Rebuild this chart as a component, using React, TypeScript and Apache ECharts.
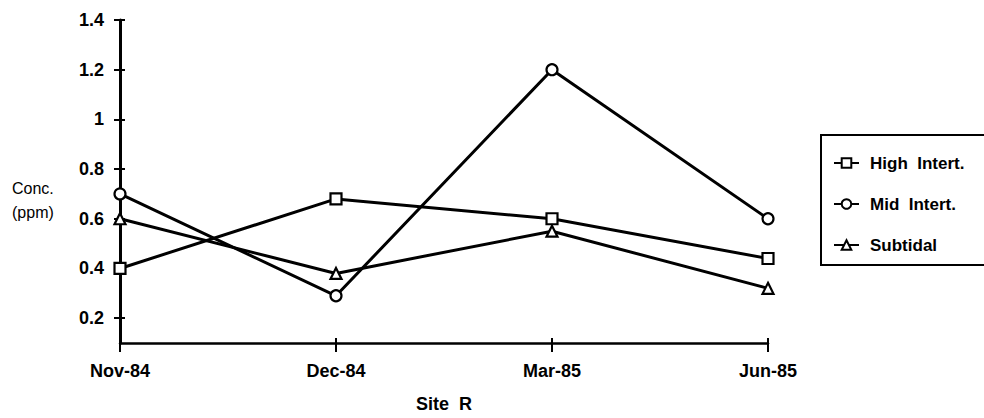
import React, { useEffect, useRef } from "react";
import * as echarts from "echarts";

const categories = ["Nov-84", "Dec-84", "Mar-85", "Jun-85"];
const highIntert = [0.4, 0.68, 0.6, 0.44];
const midIntert = [0.7, 0.29, 1.2, 0.6];
const subtidal = [0.6, 0.38, 0.55, 0.32];
const yTicks = [0.2, 0.4, 0.6, 0.8, 1, 1.2, 1.4];
const seriesNames = ["High  Intert.", "Mid  Intert.", "Subtidal"];

const FONT = "'Liberation Sans', Arial, Helvetica, sans-serif";

export default function App() {
  const ref = useRef<HTMLDivElement>(null);
  useEffect(() => {
    if (!ref.current) return;
    const chart = echarts.init(ref.current, undefined, { renderer: "svg" });
    const mk = (name: string, data: number[], symbol: string, size: number) => ({
      name,
      type: "line",
      data,
      symbol,
      symbolSize: size,
      xAxisIndex: 0,
      yAxisIndex: 0,
      lineStyle: { color: "#000", width: 3 },
      itemStyle: { color: "#fff", borderColor: "#000", borderWidth: 2.2 },
      emphasis: { disabled: true },
    });
    chart.setOption({
      animation: false,
      backgroundColor: "#fff",
      textStyle: { fontFamily: FONT },
      grid: { left: 120, right: 216, top: 20, bottom: 72, containLabel: false },
      xAxis: [
        {
          type: "category",
          data: categories,
          boundaryGap: false,
          position: "bottom",
          name: "Site  R",
          nameLocation: "middle",
          nameGap: 52,
          nameTextStyle: { fontSize: 18, fontWeight: "bold", color: "#000", fontFamily: FONT },
          axisLine: { show: true, lineStyle: { color: "#000", width: 2.5 } },
          axisTick: { show: true, length: 9, lineStyle: { color: "#000", width: 2 } },
          axisLabel: { margin: 19, fontSize: 18, fontWeight: "bold", color: "#000", fontFamily: FONT },
          splitLine: { show: false },
        },
        {
          type: "category",
          data: categories,
          boundaryGap: false,
          position: "bottom",
          axisLine: { show: false },
          axisTick: { show: true, inside: true, length: 5, lineStyle: { color: "#000", width: 2 } },
          axisLabel: { show: false },
          splitLine: { show: false },
        },
      ],
      yAxis: [
        {
          type: "value",
          min: 0.1,
          max: 1.4,
          position: "left",
          axisLine: { show: true, lineStyle: { color: "#000", width: 3 } },
          axisTick: { show: true, length: 6, customValues: yTicks, lineStyle: { color: "#000", width: 2 } },
          axisLabel: {
            customValues: yTicks,
            margin: 16,
            fontSize: 18,
            fontWeight: "bold",
            color: "#000",
            fontFamily: FONT,
          },
          splitLine: { show: false },
        },
        {
          type: "value",
          min: 0.1,
          max: 1.4,
          position: "left",
          axisLine: { show: false },
          axisTick: { show: true, inside: true, length: 5, customValues: yTicks, lineStyle: { color: "#000", width: 2 } },
          axisLabel: { show: false, customValues: yTicks },
          splitLine: { show: false },
        },
      ],
      legend: {
        orient: "vertical",
        left: 821,
        top: 135,
        data: seriesNames,
        itemWidth: 25,
        itemHeight: 12,
        itemGap: 23,
        padding: [19, 10, 10, 12],
        borderWidth: 0,
        selectedMode: false,
        textStyle: {
          fontSize: 17,
          fontWeight: "bold",
          color: "#000",
          fontFamily: FONT,
          lineHeight: 18,
          padding: [0, 0, 0, 6],
        },
      },
      graphic: [
        {
          type: "rect",
          x: 821,
          y: 135,
          shape: { width: 200, height: 130 },
          style: { fill: "none", stroke: "#000", lineWidth: 2 },
          silent: true,
        },
        {
          type: "text",
          left: 12,
          top: 176,
          style: {
            text: "Conc.\n(ppm)",
            fontSize: 16,
            lineHeight: 24,
            fill: "#000",
            fontFamily: FONT,
          },
        },
      ],
      series: [
        mk(seriesNames[0], highIntert, "rect", 11),
        mk(seriesNames[1], midIntert, "circle", 11),
        mk(seriesNames[2], subtidal, "triangle", 11),
      ],
    });
    return () => chart.dispose();
  }, []);
  return (
    <div
      ref={ref}
      style={{ position: "absolute", left: 0, top: 0, width: 984, height: 418, background: "#fff", overflow: "hidden" }}
    />
  );
}
